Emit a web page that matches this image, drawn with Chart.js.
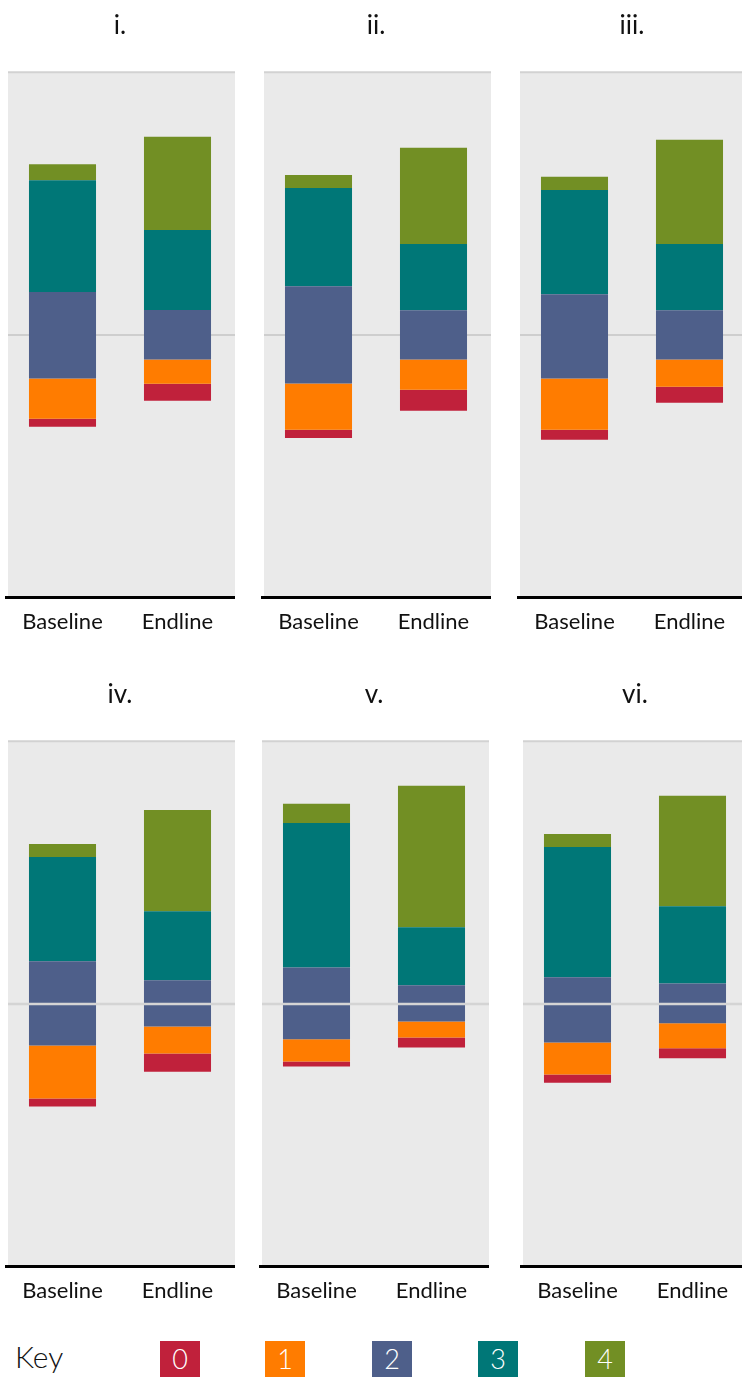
<!DOCTYPE html>
<html>
<head>
<meta charset="utf-8">
<script src="https://cdn.jsdelivr.net/npm/chart.js@4.4.1/dist/chart.umd.min.js"></script>
<style>
  html, body { margin: 0; padding: 0; background: #fff; }
  body { width: 742px; height: 1378px; position: relative; overflow: hidden; font-family: Lato, "Open Sans", sans-serif; }
  canvas.panel { position: absolute; }
  #key { position: absolute; left: 0; top: 1330px; width: 742px; height: 48px; }
  #key .lbl { position: absolute; left: 15px; top: 8px; font-size: 30px; font-weight: 300; color: #111; }
  #key .box { position: absolute; top: 11px; width: 40px; height: 36px; color: #fff; font-size: 27px; font-weight: 300;
              text-align: center; line-height: 36px; }
</style>
</head>
<body>
<canvas class="panel" id="p0" width="230" height="656" style="left:5px;top:0px"></canvas>
<canvas class="panel" id="p1" width="230" height="656" style="left:261px;top:0px"></canvas>
<canvas class="panel" id="p2" width="230" height="656" style="left:517px;top:0px"></canvas>
<canvas class="panel" id="p3" width="230" height="656" style="left:5px;top:669px"></canvas>
<canvas class="panel" id="p4" width="230" height="656" style="left:259px;top:669px"></canvas>
<canvas class="panel" id="p5" width="230" height="656" style="left:520px;top:669px"></canvas>
<div id="key"><span class="lbl">Key</span></div>

<script>
'use strict';

/* Data: percent of respondents per score, [Baseline, Endline] per panel */
const PANELS = ['i.', 'ii.', 'iii.', 'iv.', 'v.', 'vi.'];
const GROUPS = ['Baseline', 'Endline'];
const SCORES = ['0', '1', '2', '3', '4'];

const SCORE_0       = [[3.1, 6.5], [3.1, 8.0], [3.8, 6.1], [3.1, 6.9], [1.9, 3.8], [3.1, 3.8]];
const SCORE_1       = [[15.3, 9.2], [17.6, 11.5], [19.5, 10.3], [20.2, 10.3], [8.4, 6.1], [12.2, 9.5]];
const SCORE_2_BELOW = [[16.6, 9.4], [18.5, 9.4], [16.6, 9.4], [15.8, 8.6], [13.5, 6.7], [14.7, 7.4]];
const SCORE_2_ABOVE = [[16.3, 9.5], [18.5, 9.4], [15.5, 9.4], [16.2, 9.0], [13.9, 7.1], [10.1, 7.8]];
const SCORE_3       = [[42.6, 30.4], [37.4, 25.2], [39.7, 25.2], [39.7, 26.3], [55.0, 22.1], [49.6, 29.4]];
const SCORE_4       = [[6.1, 35.5], [5.0, 36.6], [5.0, 39.7], [5.0, 38.5], [7.3, 53.8], [5.0, 42.0]];

const Y_MIN = -100;
const Y_MAX = 100;

const COLORS = ['#c0213b', '#ff7c00', '#4e5f8a', '#007777', '#728f24'];
const BG = '#eaeaea';

/* panel background, top rule and zero line */
const panelBg = {
  id: 'panelBg',
  beforeDraw(chart, args, opts) {
    const { ctx, chartArea: a, scales: { y } } = chart;
    const left = a.left + 3;
    ctx.save();
    ctx.fillStyle = BG;
    ctx.fillRect(left, a.top, a.right - left, a.bottom - a.top);
    ctx.strokeStyle = '#d2d2d2';
    ctx.lineWidth = 2;
    const yt = y.getPixelForValue(Y_MAX);
    ctx.beginPath(); ctx.moveTo(left, yt); ctx.lineTo(a.right, yt); ctx.stroke();
    if (!opts.zeroOnTop) {
      const y0 = y.getPixelForValue(0);
      ctx.strokeStyle = '#c4c4c4';
      ctx.lineWidth = 1.5;
      ctx.beginPath(); ctx.moveTo(left, y0); ctx.lineTo(a.right, y0); ctx.stroke();
    }
    ctx.restore();
  },
  afterDatasetsDraw(chart, args, opts) {
    if (!opts.zeroOnTop) return;
    const { ctx, chartArea: a, scales: { y } } = chart;
    const y0 = y.getPixelForValue(0);
    ctx.save();
    ctx.strokeStyle = '#d4d4d4';
    ctx.lineWidth = 2.5;
    ctx.beginPath(); ctx.moveTo(a.left + 3, y0); ctx.lineTo(a.right, y0); ctx.stroke();
    ctx.restore();
  }
};

function neg(arr) { return arr.map(v => -v); }

function makePanel(i) {
  const ds = (label, data, color) => ({
    label, data, backgroundColor: color, borderWidth: 0,
    barPercentage: 0.583, categoryPercentage: 1.0
  });
  // positives stack upward from zero, negatives downward, in dataset order
  const datasets = [
    ds('2', SCORE_2_ABOVE[i], COLORS[2]),
    ds('2', neg(SCORE_2_BELOW[i]), COLORS[2]),
    ds('3', SCORE_3[i], COLORS[3]),
    ds('1', neg(SCORE_1[i]), COLORS[1]),
    ds('4', SCORE_4[i], COLORS[4]),
    ds('0', neg(SCORE_0[i]), COLORS[0]),
  ];

  new Chart(document.getElementById('p' + i), {
    type: 'bar',
    data: { labels: GROUPS, datasets },
    plugins: [panelBg],
    options: {
      responsive: false,
      animation: false,
      devicePixelRatio: 1,
      layout: { padding: { left: 0, right: 0, top: 0, bottom: 10 } },
      plugins: {
        legend: { display: false },
        tooltip: { enabled: false },
        title: {
          display: true, text: PANELS[i], color: '#111',
          font: { family: 'Lato', size: 26, weight: 'normal' },
          padding: { top: 10, bottom: 31 }
        },
        panelBg: { zeroOnTop: i >= 3 }
      },
      scales: {
        x: {
          stacked: true,
          grid: { display: false, drawTicks: false },
          border: { display: true, color: '#000', width: 3 },
          ticks: { color: '#111', padding: 11, font: { family: 'Lato', size: 22 } }
        },
        y: { stacked: true, display: false, min: Y_MIN, max: Y_MAX }
      }
    }
  });
}

PANELS.forEach((_, i) => makePanel(i));

/* key row */
const KEY_X = [160, 265, 372, 478, 585];
const key = document.getElementById('key');
SCORES.forEach((s, i) => {
  const b = document.createElement('div');
  b.className = 'box';
  b.style.left = KEY_X[i] + 'px';
  b.style.background = COLORS[i];
  b.textContent = s;
  key.appendChild(b);
});
</script>
</body>
</html>
